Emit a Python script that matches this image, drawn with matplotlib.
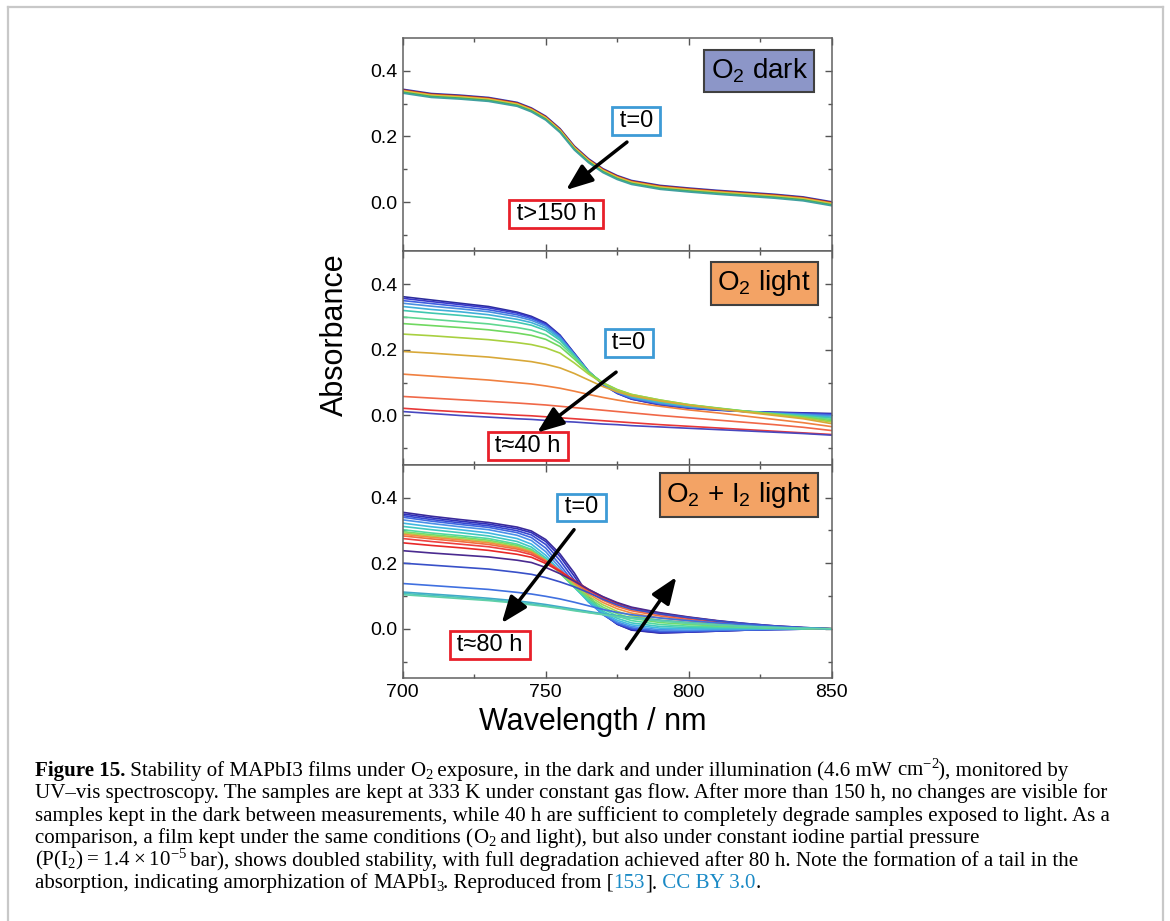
import matplotlib
matplotlib.use("Agg")
import matplotlib.pyplot as plt
from matplotlib.lines import Line2D

plt.rcParams['font.family'] = ['Liberation Sans', 'DejaVu Sans']
plt.rcParams['mathtext.fontset'] = 'custom'
plt.rcParams['mathtext.rm'] = 'Liberation Sans'

### data ####################################################################

wl = [700, 710, 720, 730, 740, 745, 750, 755, 760, 765, 770, 775, 780, 790, 800, 810, 820, 830, 840, 850]

# O2 dark: spectra barely change over >150 h
dark_abs = [
    [.344, .331, .326, .319, .304, .287, .262, .224, .171, .132, .102, .081, .066, .051, .043, .036, .030, .024, .016, .001],
    [.342, .329, .324, .317, .302, .285, .260, .222, .169, .130, .100, .079, .064, .049, .041, .034, .028, .022, .014, -.001],
    [.340, .327, .322, .315, .300, .283, .258, .220, .167, .128, .098, .077, .062, .047, .039, .032, .026, .020, .012, -.003],
    [.338, .325, .320, .313, .298, .281, .256, .218, .165, .126, .096, .075, .060, .045, .037, .030, .024, .018, .010, -.005],
    [.335, .322, .317, .310, .295, .278, .253, .215, .162, .123, .093, .072, .057, .042, .034, .027, .021, .015, .007, -.008],
    [.332, .319, .314, .307, .292, .275, .250, .212, .159, .120, .090, .069, .054, .039, .031, .024, .018, .012, .004, -.011],
]
dark_colors = ['#3040c0', '#a02020', '#f09030', '#d8c840', '#40b060', '#40a0a0']

# O2 light: t=0 ... t~40 h
light_abs = [
    [.362, .352, .342, .332, .315, .302, .282, .245, .190, .135, .095, .068, .050, .032, .022, .016, .012, .010, .008, .006],
    [.357, .347, .338, .328, .312, .299, .279, .243, .188, .133, .094, .067, .050, .033, .023, .017, .012, .009, .007, .004],
    [.350, .341, .332, .322, .307, .295, .276, .241, .187, .133, .095, .069, .052, .035, .024, .018, .012, .008, .005, .002],
    [.342, .333, .325, .316, .301, .290, .272, .238, .186, .133, .096, .071, .054, .037, .026, .019, .012, .007, .003, -.001],
    [.332, .323, .316, .307, .293, .283, .266, .234, .184, .133, .097, .073, .057, .040, .028, .020, .012, .006, .001, -.005],
    [.320, .312, .305, .297, .284, .275, .259, .229, .182, .133, .098, .075, .059, .042, .030, .021, .012, .005, -.001, -.008],
    [.300, .293, .286, .279, .268, .260, .246, .220, .178, .132, .099, .077, .062, .045, .032, .022, .013, .005, -.003, -.012],
    [.280, .274, .268, .261, .251, .244, .232, .210, .172, .131, .100, .079, .064, .047, .033, .023, .013, .004, -.005, -.016],
    [.248, .243, .237, .231, .222, .216, .206, .190, .160, .126, .098, .078, .064, .047, .033, .022, .012, .003, -.007, -.020],
    [.195, .190, .184, .178, .169, .164, .156, .145, .128, .108, .088, .072, .060, .044, .031, .020, .010, .000, -.010, -.025],
    [.126, .120, .114, .108, .100, .096, .090, .083, .074, .064, .055, .047, .040, .028, .017, .008, -.002, -.012, -.022, -.034],
    [.058, .053, .048, .043, .038, .035, .032, .028, .024, .020, .016, .012, .008, .000, -.007, -.014, -.021, -.028, -.036, -.046],
    [.022, .016, .011, .006, .001, -.001, -.004, -.007, -.010, -.013, -.016, -.019, -.022, -.028, -.033, -.038, -.043, -.048, -.053, -.058],
    [.012, .006, .000, -.005, -.010, -.012, -.015, -.018, -.020, -.023, -.026, -.028, -.031, -.035, -.039, -.043, -.047, -.051, -.055, -.060],
]
light_colors = ['#2c2c9c', '#3838c8', '#4060e0', '#4a90e0', '#40b0d8', '#40c8b0', '#60d890',
                '#70d860', '#a8d040', '#d8a838', '#f08040', '#f06848', '#e83838', '#4848c0']

# O2 + I2 light: t=0 ... t~80 h
iodine_abs = [
    [.355, .343, .333, .324, .310, .298, .272, .228, .170, .100, .048, .014, -.004, -.013, -.010, -.007, -.004, -.002, -.001, .000],
    [.350, .338, .328, .319, .305, .293, .266, .220, .160, .094, .046, .014, -.003, -.012, -.010, -.007, -.004, -.002, -.001, .000],
    [.345, .333, .323, .314, .299, .286, .257, .208, .148, .088, .044, .015, .000, -.010, -.009, -.006, -.004, -.002, -.001, .000],
    [.340, .328, .318, .309, .293, .278, .246, .195, .138, .083, .043, .017, .003, -.007, -.007, -.005, -.003, -.002, -.001, .000],
    [.332, .321, .311, .302, .285, .269, .235, .185, .131, .081, .045, .021, .007, -.003, -.004, -.003, -.002, -.001, .000, .000],
    [.322, .311, .302, .292, .275, .258, .224, .176, .127, .082, .049, .026, .012, .002, .000, .000, .000, .000, .000, .000],
    [.312, .302, .293, .283, .266, .249, .216, .171, .126, .085, .054, .032, .018, .007, .004, .003, .002, .001, .000, .000],
    [.302, .292, .284, .275, .258, .242, .211, .169, .127, .089, .060, .039, .025, .013, .008, .006, .004, .002, .001, .000],
    [.296, .287, .279, .270, .254, .239, .209, .170, .130, .094, .066, .046, .032, .019, .013, .009, .006, .003, .001, .000],
    [.292, .283, .275, .266, .250, .236, .208, .172, .134, .100, .073, .053, .040, .026, .018, .012, .008, .004, .002, .000],
    [.288, .279, .271, .262, .247, .234, .208, .175, .139, .106, .080, .061, .048, .033, .024, .016, .010, .005, .002, .000],
    [.283, .274, .266, .257, .243, .231, .207, .177, .143, .112, .087, .068, .055, .039, .028, .019, .012, .006, .002, .000],
    [.275, .266, .258, .250, .237, .226, .204, .177, .146, .117, .093, .074, .060, .044, .032, .022, .014, .007, .003, .000],
    [.262, .254, .247, .239, .227, .218, .199, .175, .147, .120, .097, .078, .064, .047, .035, .024, .015, .008, .003, .000],
    [.238, .231, .225, .219, .209, .202, .187, .168, .145, .120, .098, .080, .066, .049, .036, .025, .016, .009, .004, .000],
    [.200, .194, .188, .182, .172, .166, .156, .143, .128, .110, .090, .073, .060, .045, .034, .024, .016, .009, .004, .000],
    [.138, .132, .126, .120, .111, .106, .099, .091, .081, .070, .059, .050, .043, .033, .025, .018, .012, .007, .003, .000],
    [.112, .106, .100, .093, .085, .080, .074, .067, .060, .053, .046, .040, .035, .026, .019, .013, .008, .004, .002, .000],
    [.108, .102, .096, .089, .081, .076, .070, .064, .057, .050, .044, .038, .033, .025, .018, .012, .008, .004, .002, .000],
    [.104, .098, .092, .086, .078, .073, .068, .062, .055, .049, .043, .037, .032, .024, .017, .012, .007, .004, .001, .000],
]
iodine_colors = ['#3a2a9a', '#3030b8', '#3848d0', '#4068e0', '#4a90e8', '#40b8e0', '#40c8c0',
                 '#50d8a0', '#70dc70', '#a0d850', '#f09040', '#f07040', '#ee4040', '#e82828',
                 '#4a2a90', '#3850c8', '#4070e0', '#40a8c8', '#48c0c0', '#60d0a8']

panel_labels = [r'$\mathregular{O_2}$ dark', r'$\mathregular{O_2}$ light',
                r'$\mathregular{O_2}$ + $\mathregular{I_2}$ light']
panel_label_colors = ['#8c96c8', '#f3a365', '#f3a365']
end_labels = ['t>150 h', 't≈40 h', 't≈80 h']

### figure #################################################################

fig, axes = plt.subplots(3, 1, sharex=True, figsize=(11.7, 9.21), dpi=100)
fig.subplots_adjust(left=0.3442, right=0.7109, top=0.9587, bottom=0.2638, hspace=0)

spectra = [(dark_abs, dark_colors), (light_abs, light_colors), (iodine_abs, iodine_colors)]
for ax, (rows, cols) in zip(axes, spectra):
    for row, c in zip(rows, cols):
        ax.plot(wl, row, color=c, lw=1.2)
    ax.set_xlim(700, 850)
    ax.set_ylim(-0.15, 0.5)
    ax.set_xticks([700, 750, 800, 850])
    ax.set_xticks([725, 775, 825], minor=True)
    ax.set_yticks([0.0, 0.2, 0.4])
    ax.set_yticks([-0.1, 0.1, 0.3], minor=True)
    ax.tick_params(which='both', direction='in', top=True, right=True, labelsize=14,
                   color='#555555', width=1, pad=4)
    ax.tick_params(which='major', length=5)
    ax.tick_params(which='minor', length=3)
    for sp in ax.spines.values():
        sp.set_color('#606060')
        sp.set_linewidth(1.1)

big_box = dict(boxstyle='square,pad=0.24', ec='#404040', lw=1.5)
blue_box = dict(boxstyle='square,pad=0.12', fc='white', ec='#3d9bd6', lw=2)
red_box = dict(boxstyle='square,pad=0.12', fc='white', ec='#e8202a', lw=2)
arrow = dict(arrowstyle='-|>,head_length=0.9,head_width=0.35', lw=2.5, color='k',
             shrinkA=0, shrinkB=0, mutation_scale=18)

label_pos = [(824.6, 0.400), (826.4, 0.403), (817.5, 0.408)]
t0_pos = [(781.6, 0.247), (779.1, 0.221), (762.6, 0.370)]
end_pos = [(753.6, -0.036), (743.8, -0.093), (730.5, -0.050)]
arrow_from = [(778.4, 0.183), (774.6, 0.132), (759.9, 0.302)]
arrow_to = [(757.1, 0.037), (747.0, -0.052), (734.6, 0.017)]

sp = '\u2009'
for i, ax in enumerate(axes):
    b = dict(big_box, fc=panel_label_colors[i])
    ax.text(*label_pos[i], panel_labels[i], ha='center', va='center', fontsize=20, bbox=b, zorder=5)
    ax.text(*t0_pos[i], sp + 't=0' + sp, ha='center', va='center', fontsize=17, bbox=blue_box, zorder=5)
    ax.text(*end_pos[i], sp + end_labels[i] + sp, ha='center', va='center', fontsize=17, bbox=red_box,
            zorder=5)
    ax.annotate('', xy=arrow_to[i], xytext=arrow_from[i], arrowprops=arrow, zorder=6)

# tail arrow in bottom panel
axes[2].annotate('', xy=(795.7, 0.158), xytext=(778.2, -0.061), arrowprops=arrow, zorder=6)

fig.text(335 / 1170, 1 - 335 / 921, 'Absorbance', rotation=90, ha='center', va='center', fontsize=22)
fig.text(593 / 1170, 1 - 722 / 921, 'Wavelength / nm', ha='center', va='center', fontsize=22)

# page frame
fig.add_artist(Line2D([8 / 1170, 8 / 1170], [0, 1 - 7 / 921], color='#c8c8c8', lw=1.6))
fig.add_artist(Line2D([8 / 1170, 1163 / 1170], [1 - 7 / 921, 1 - 7 / 921], color='#c8c8c8', lw=1.6))
fig.add_artist(Line2D([1163 / 1170, 1163 / 1170], [0, 1 - 7 / 921], color='#c8c8c8', lw=1.6))

### caption ################################################################

cap_font = dict(family='Liberation Serif', fontsize=15.1, va='baseline')
link = '#1a8ac6'
O2 = r'$\mathregular{O_2}$'
caption = [
    [('Figure 15.', 'bold', 'k'), (' Stability of MAPbI3 films under ', 'normal', 'k'), (O2, 'normal', 'k'),
     (' exposure, in the dark and under illumination (4.6 mW ', 'normal', 'k'),
     (r'$\mathregular{cm^{-2}}$', 'normal', 'k'), ('), monitored by', 'normal', 'k')],
    [('UV–vis spectroscopy. The samples are kept at 333 K under constant gas flow. After more than 150 h, '
      'no changes are visible for', 'normal', 'k')],
    [('samples kept in the dark between measurements, while 40 h are sufficient to completely degrade '
      'samples exposed to light. As a', 'normal', 'k')],
    [('comparison, a film kept under the same conditions (', 'normal', 'k'), (O2, 'normal', 'k'),
     (' and light), but also under constant iodine partial pressure', 'normal', 'k')],
    [(r'$\mathregular{(P(I_2) = 1.4 \times 10^{-5}}$', 'normal', 'k'),
     (' bar), shows doubled stability, with full degradation achieved after 80 h. '
      'Note the formation of a tail in the', 'normal', 'k')],
    [('absorption, indicating amorphization of ', 'normal', 'k'), (r'$\mathregular{MAPbI_3}$', 'normal', 'k'),
     ('. Reproduced from [', 'normal', 'k'),
     ('153', 'normal', link), ('].', 'normal', 'k'), (' CC BY 3.0', 'normal', link), ('.', 'normal', 'k')],
]

renderer = fig.canvas.get_renderer()
for n, line in enumerate(caption):
    x = 35
    y = 776 + n * 22.4
    for s, weight, c in line:
        t = fig.text(x / 1170, 1 - y / 921, s, color=c, weight=weight, **cap_font)
        x = t.get_window_extent(renderer).x1
        if '$' in s:
            x -= 2

fig.savefig('out.png', dpi=100)
